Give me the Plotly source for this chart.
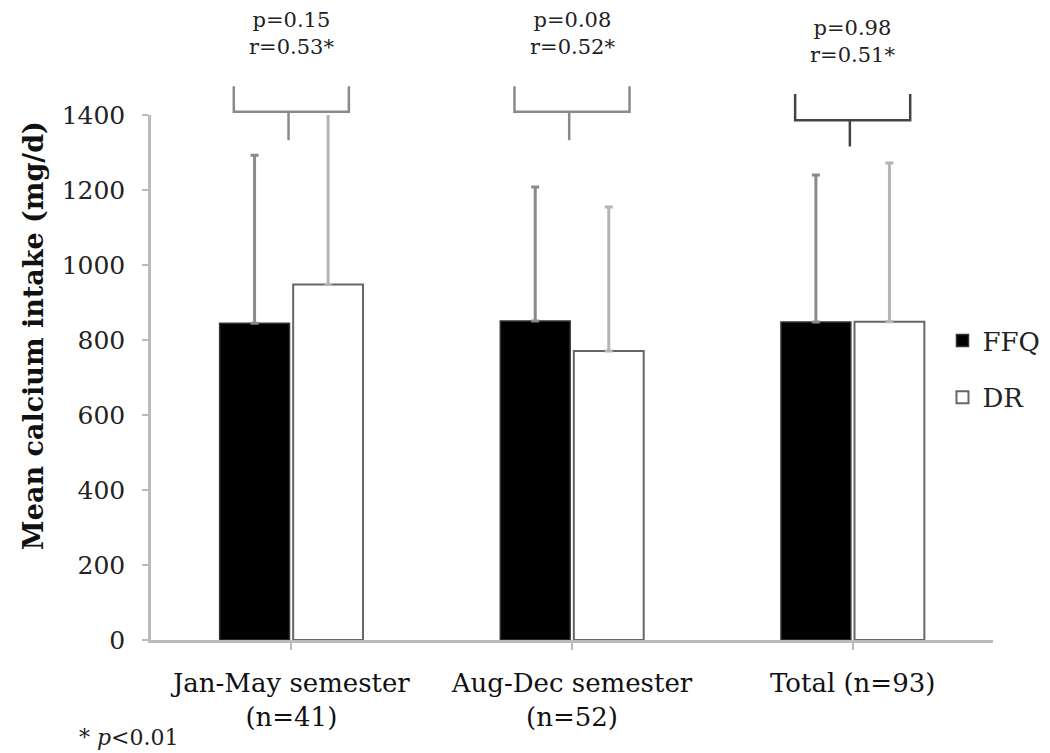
import plotly.graph_objects as go

categories = ["Jan-May semester<br>(n=41)", "Aug-Dec semester<br>(n=52)", "Total (n=93)"]
ffq_mean = [845, 851, 848]
ffq_sd = [448, 357, 392]
dr_mean = [948, 771, 849]
dr_sd = [460, 384, 423]
p_values = ["0.15", "0.08", "0.98"]
r_values = ["0.53*", "0.52*", "0.51*"]
y_ticks = [0, 200, 400, 600, 800, 1000, 1200, 1400]

SERIF = "DejaVu Serif, serif"
idx = list(range(len(categories)))

fig = go.Figure()
fig.add_trace(go.Bar(
    name="FFQ", x=idx, y=ffq_mean,
    marker=dict(color="black", line=dict(color="#333333", width=1.5)),
    error_y=dict(type="data", array=ffq_sd, visible=True, symmetric=False,
                 arrayminus=[0] * len(ffq_sd), color="#8a8a8a", thickness=3, width=4),
    legendgroup="a",
))
fig.add_trace(go.Bar(
    name="DR", x=idx, y=dr_mean,
    marker=dict(color="white", line=dict(color="#666666", width=2)),
    error_y=dict(type="data", array=dr_sd, visible=True, symmetric=False,
                 arrayminus=[0] * len(dr_sd), color="#b5b5b5", thickness=3, width=4),
    legendgroup="b",
))

# p / r annotations and braces
brace_cols = ["#8a8a8a", "#8a8a8a", "#444444"]
brace_top = [1.055, 1.055, 1.04]
brace_mid = [1.006, 1.006, 0.99]
stem_bot = [0.952, 0.952, 0.94]
text_y = [1.155, 1.155, 1.14]
half = 0.205
for i in idx:
    fig.add_annotation(x=i, xref="x", y=text_y[i], yref="paper",
                       text=f"p={p_values[i]}<br>r={r_values[i]}",
                       showarrow=False, yanchor="middle",
                       font=dict(family=SERIF, size=21, color="#222222"))
    c = brace_cols[i]
    path = (f"M {i - half},{brace_top[i]} L {i - half},{brace_mid[i]} "
            f"L {i + half},{brace_mid[i]} L {i + half},{brace_top[i]}")
    fig.add_shape(type="path", xref="x", yref="paper", path=path,
                  line=dict(color=c, width=2.5))
    fig.add_shape(type="line", xref="x", yref="paper",
                  x0=i - 0.01, x1=i - 0.01, y0=brace_mid[i], y1=stem_bot[i],
                  line=dict(color=c, width=2.5))

# y-axis title
fig.add_annotation(x=-0.14, xref="paper", y=0.579, yref="paper",
                   text="<b>Mean calcium intake (mg/d)</b>", textangle=-90,
                   showarrow=False, xanchor="center", yanchor="middle",
                   font=dict(family=SERIF, size=27, color="#111111"))

fig.add_annotation(x=-0.088, xref="paper", xanchor="left", y=-0.186, yref="paper",
                   yanchor="middle", text="* <i>p</i>&lt;0.01", showarrow=False,
                   font=dict(family=SERIF, size=22, color="#222222"))

fig.update_layout(
    width=1050, height=753,
    margin=dict(l=143, r=65, t=107, b=121, autoexpand=False),
    plot_bgcolor="white", paper_bgcolor="white",
    barmode="group", bargap=0.476, bargroupgap=0.05,
    showlegend=True,
    legend=dict(x=0.94, y=0.615, xanchor="left", yanchor="top",
                font=dict(family=SERIF, size=26, color="#222222"),
                traceorder="grouped", tracegroupgap=20,
                bgcolor="rgba(0,0,0,0)"),
    font=dict(family=SERIF, color="#222222"),
)
fig.update_xaxes(
    tickmode="array", tickvals=idx, ticktext=categories,
    range=[-0.5, len(categories) - 0.5],
    showline=True, linecolor="#bbbbbb", linewidth=2.5,
    ticks="outside", tickson="boundaries", ticklen=7, tickcolor="#bbbbbb", tickwidth=2,
    ticklabelstandoff=11,
    tickfont=dict(family=SERIF, size=26, color="#111111"),
    showgrid=False, zeroline=False,
)
fig.update_yaxes(
    range=[0, 1400], tickvals=y_ticks,
    showline=True, linecolor="#bbbbbb", linewidth=2.5,
    ticks="outside", ticklen=6, tickcolor="#bbbbbb", tickwidth=2,
    ticklabelstandoff=12,
    tickfont=dict(family=SERIF, size=25, color="#222222"),
    showgrid=False, zeroline=False,
)

fig.write_html("out.html")
